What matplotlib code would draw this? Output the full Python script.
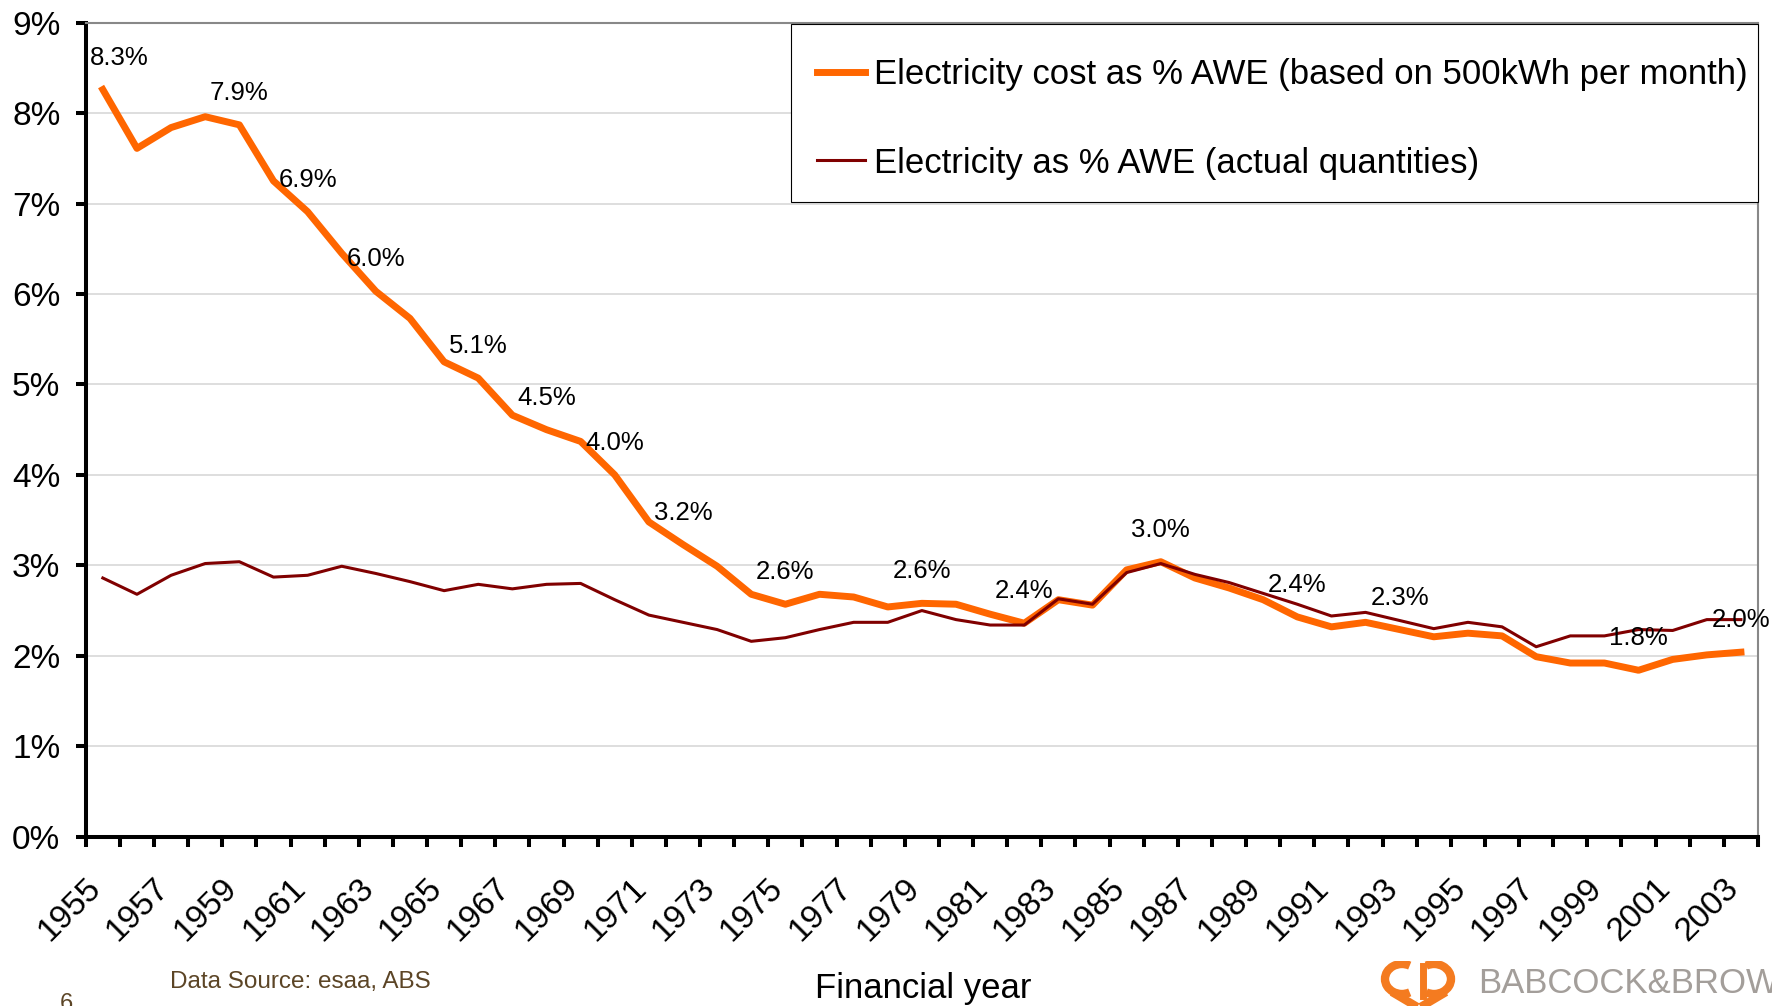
import matplotlib.pyplot as plt
import matplotlib.transforms as mtransforms
from matplotlib.patches import Arc, Rectangle
import numpy as np

plt.rcParams['font.family'] = ['Liberation Sans', 'DejaVu Sans']

# financial years on the category axis
years = [1955, 1956, 1957, 1958, 1959, 1960, 1961, 1962, 1963, 1964,
         1965, 1966, 1967, 1968, 1969, 1970, 1971, 1972, 1973, 1974,
         1975, 1976, 1977, 1978, 1979, 1980, 1981, 1982, 1983, 1984,
         1985, 1986, 1987, 1988, 1989, 1990, 1991, 1992, 1993, 1994,
         1995, 1996, 1997, 1998, 1999, 2000, 2001, 2002, 2003]

# electricity cost as % AWE (500kWh per month)
cost_pct = [8.26, 7.61, 7.84, 7.96, 7.87, 7.25, 6.91, 6.45, 6.03, 5.73,
            5.25, 5.07, 4.66, 4.50, 4.37, 4.00, 3.48, 3.23, 2.99, 2.68,
            2.57, 2.68, 2.65, 2.54, 2.58, 2.57, 2.46, 2.36, 2.62, 2.56,
            2.95, 3.04, 2.86, 2.75, 2.62, 2.43, 2.32, 2.37, 2.29, 2.21,
            2.25, 2.22, 1.99, 1.92, 1.92, 1.84, 1.96, 2.01, 2.04]

# electricity as % AWE (actual quantities)
actual_pct = [2.86, 2.68, 2.89, 3.02, 3.04, 2.87, 2.89, 2.99, 2.91, 2.82,
              2.72, 2.79, 2.74, 2.79, 2.80, 2.62, 2.45, 2.37, 2.29, 2.16,
              2.20, 2.29, 2.37, 2.37, 2.50, 2.40, 2.34, 2.34, 2.63, 2.57,
              2.92, 3.02, 2.90, 2.81, 2.69, 2.57, 2.44, 2.48, 2.39, 2.30,
              2.37, 2.32, 2.10, 2.22, 2.22, 2.29, 2.28, 2.40, 2.40]

# years whose cost value gets a data label
label_years = [1955, 1959, 1961, 1963, 1966, 1968, 1970, 1972, 1975,
               1979, 1982, 1986, 1990, 1993, 2000, 2003]

y_ticks = [0, 1, 2, 3, 4, 5, 6, 7, 8, 9]

W, H = 1772, 1006
fig = plt.figure(figsize=(W / 100, H / 100), dpi=100)
ax = fig.add_axes([0.0484, 0.1683, 0.9921 - 0.0484, 0.9775 - 0.1683])

x = np.arange(len(years))
ax.plot(x, cost_pct, color='#FF6600', lw=5,
        label='Electricity cost as % AWE (based on 500kWh per month)', zorder=3)
ax.plot(x, actual_pct, color='#800000', lw=2.2,
        label='Electricity as % AWE (actual quantities)', zorder=4)

ax.set_xlim(-0.5, len(years) - 0.5)
ax.set_ylim(0, 9)

ax.set_yticks(y_ticks)
ax.set_yticklabels([f"{v}%" for v in y_ticks], fontsize=24)
ax.tick_params(axis='y', length=7.2, width=2.9, direction='out', pad=11)
ax.yaxis.grid(True, color='#D4D4D4', lw=1.1, zorder=0)
ax.set_axisbelow(True)

ax.set_xticks(x[::2])
ax.set_xticklabels([str(y) for y in years[::2]], fontsize=24, rotation=45,
                   ha='right', va='top', rotation_mode='anchor')
ax.tick_params(axis='x', which='major', length=0, pad=26)
ax.set_xticks(np.arange(-0.5, len(years)), minor=True)
ax.tick_params(axis='x', which='minor', length=7.2, width=2.9, direction='out')
shift = mtransforms.ScaledTranslation(-18 / 100, 0, fig.dpi_scale_trans)
for lbl in ax.get_xticklabels():
    lbl.set_transform(lbl.get_transform() + shift)

for side in ['left', 'bottom']:
    ax.spines[side].set_linewidth(2.9)
    ax.spines[side].set_color('black')
for side in ['top', 'right']:
    ax.spines[side].set_linewidth(1.5)
    ax.spines[side].set_color('#888888')

for yr in label_years:
    i = years.index(yr)
    v = cost_pct[i]
    dx = 12 if i == 0 else 0
    ax.annotate(f"{v:.1f}%", (i, v), xytext=(dx, 23), textcoords='offset points',
                ha='center', va='center', fontsize=18.5, zorder=5)

# legend box drawn separately so the padding can match the slide
ax.add_patch(Rectangle((791 / W, 1 - 202 / H), (1758 - 791) / W, (202 - 24) / H,
                       transform=fig.transFigure, facecolor='white',
                       edgecolor='black', lw=0.8, zorder=6, clip_on=False))
leg = ax.legend(loc='upper left', bbox_to_anchor=(817 / W, 1 - 58 / H),
                bbox_transform=fig.transFigure, fontsize=25, frameon=False,
                borderaxespad=0, borderpad=0, handlelength=1.38,
                handletextpad=0.25, labelspacing=1.6)
leg.set_zorder(7)

fig.text(923 / W, 1 - 998 / H, 'Financial year', fontsize=25,
         ha='center', va='baseline')
fig.text(170 / W, 1 - 988 / H, 'Data Source: esaa, ABS', fontsize=17.5,
         color='#5C4526', va='baseline')
fig.text(60 / W, 1 - 1010 / H, '6', fontsize=17, color='#5C4526',
         va='baseline')

# company logo, bottom right (partly cut off like the slide)
lax = fig.add_axes([1372 / W, 0, 95 / W, 45 / H])
lax.set_xlim(0, 95)
lax.set_ylim(0, 45)
lax.axis('off')
orange = '#F47B20'
lax.add_patch(Arc((30, 27), 34, 30, theta1=60, theta2=300, lw=6, color=orange))
lax.add_patch(Arc((62, 27), 34, 30, theta1=-120, theta2=120, lw=6, color=orange))
lax.plot([20, 47, 74], [14, -2, 14], color=orange, lw=6, solid_capstyle='butt')
lax.plot([51, 51], [40, 10], color=orange, lw=5)
fig.text(1478 / W, 1 - 993 / H, 'BABCOCK&BROWN', fontsize=25,
         color='#A39E9A', va='baseline')
fig.text(1478 / W, 1 - 1030 / H, 'POWER', fontsize=25,
         color='#A39E9A', va='baseline')

fig.savefig('out.png', dpi=100)
